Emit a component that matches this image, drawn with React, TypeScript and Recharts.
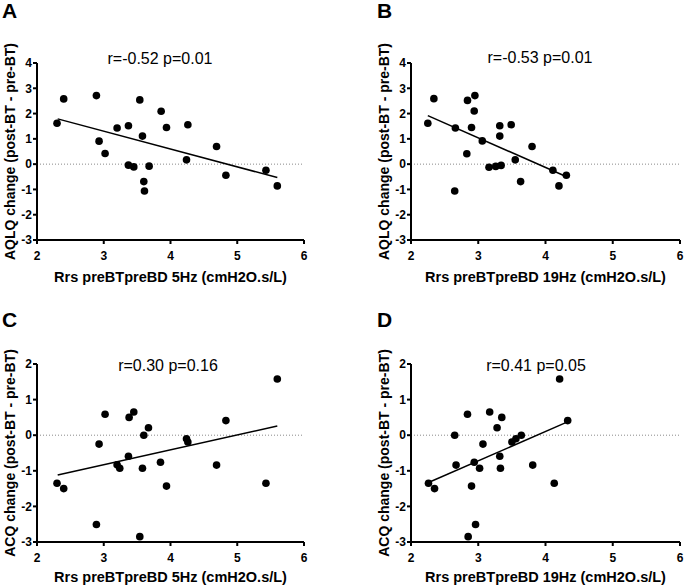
import React from "react";
import { ScatterChart, Scatter, XAxis, YAxis, ReferenceLine } from "recharts";

const FONT = "'Liberation Sans', Arial, Helvetica, sans-serif";

// [Rrs, change] pairs
const aqlqVs5Hz = [
  [2.3, 1.62], [2.4, 2.58], [2.89, 2.71], [2.93, 0.91], [3.02, 0.42], [3.2, 1.43],
  [3.37, 1.52], [3.37, -0.04], [3.45, -0.11], [3.54, 2.54], [3.58, 1.11], [3.6, -0.69],
  [3.61, -1.06], [3.68, -0.08], [3.86, 2.09], [3.94, 1.45], [4.24, 0.17], [4.26, 1.56],
  [4.69, 0.7], [4.83, -0.44], [5.43, -0.24], [5.6, -0.86],
];
const aqlqVs19Hz = [
  [2.25, 1.62], [2.34, 2.59], [2.65, -1.06], [2.66, 1.43], [2.83, 0.41], [2.84, 2.52],
  [2.9, 1.45], [2.94, 2.1], [2.95, 2.71], [3.06, 0.92], [3.16, -0.12], [3.26, -0.09],
  [3.32, 1.52], [3.32, 1.11], [3.34, -0.05], [3.49, 1.56], [3.55, 0.17], [3.63, -0.69],
  [3.8, 0.7], [4.11, -0.24], [4.2, -0.86], [4.31, -0.44],
];
const acqVs5Hz = [
  [2.3, -1.35], [2.4, -1.5], [2.89, -2.51], [2.93, -0.25], [3.02, 0.59], [3.2, -0.83],
  [3.24, -0.93], [3.37, -0.59], [3.38, 0.5], [3.45, 0.65], [3.54, -2.85], [3.58, -0.93],
  [3.6, 0.0], [3.67, 0.21], [3.85, -0.76], [3.94, -1.43], [4.24, -0.1], [4.26, -0.19],
  [4.69, -0.84], [4.83, 0.41], [5.43, -1.35], [5.6, 1.58],
];
const acqVs19Hz = [
  [2.26, -1.35], [2.35, -1.5], [2.65, 0.0], [2.67, -0.84], [2.84, 0.59], [2.85, -2.85],
  [2.9, -1.43], [2.94, -0.76], [2.96, -2.51], [3.02, -0.93], [3.07, -0.25], [3.17, 0.65],
  [3.28, 0.21], [3.32, -0.59], [3.33, -0.93], [3.35, 0.5], [3.5, -0.19], [3.56, -0.1],
  [3.64, 0.0], [3.81, -0.84], [4.13, -1.35], [4.21, 1.58], [4.33, 0.41],
];

// regression line end points
const fitA = [[2.31, 1.79], [5.6, -0.53]];
const fitB = [[2.25, 1.92], [4.28, -0.46]];
const fitC = [[2.31, -1.12], [5.6, 0.26]];
const fitD = [[2.26, -1.33], [4.31, 0.36]];

const X_TICKS = [2, 3, 4, 5, 6];
const AQLQ_TICKS = [-3, -2, -1, 0, 1, 2, 3, 4];
const ACQ_TICKS = [-3, -2, -1, 0, 1, 2];

const X_LABEL_5 = "Rrs preBTpreBD 5Hz (cmH2O.s/L)";
const X_LABEL_19 = "Rrs preBTpreBD 19Hz (cmH2O.s/L)";
const Y_LABEL_AQLQ = "AQLQ change (post-BT - pre-BT)";
const Y_LABEL_ACQ = "ACQ change (post-BT - pre-BT)";

const toPts = (rows: number[][]) => rows.map(([x, y]) => ({ x, y }));

const axisLine = { stroke: "#000", strokeWidth: 2 };
const tickStyle = { fill: "#000", fontSize: 12, fontWeight: 700, fontFamily: FONT };

type PanelProps = {
  points: number[][];
  fit: number[][];
  yTicks: number[];
  xLabel: string;
  yLabel: string;
  left: number;
  top: number;
  width: number;
  height: number;
  margin: { top: number; right: number; bottom: number; left: number };
  xAxisHeight: number;
};

function Panel(p: PanelProps) {
  const yMin = p.yTicks[0];
  const yMax = p.yTicks[p.yTicks.length - 1];
  return (
    <div style={{ position: "absolute", left: p.left, top: p.top }}>
      <ScatterChart width={p.width} height={p.height} margin={p.margin}>
        <XAxis
          type="number"
          dataKey="x"
          domain={[2, 6]}
          ticks={X_TICKS}
          interval={0}
          allowDataOverflow
          height={p.xAxisHeight}
          axisLine={axisLine}
          tickLine={axisLine}
          tickSize={4}
          tickMargin={7}
          tick={tickStyle}
          label={{
            content: (lp: any) => {
              const vb = lp.viewBox;
              return (
                <text
                  x={vb.x + vb.width / 2}
                  y={vb.y + vb.height}
                  textAnchor="middle"
                  fontSize={14.5}
                  fontWeight={700}
                  fontFamily={FONT}
                  fill="#000"
                >
                  {p.xLabel}
                </text>
              );
            },
          }}
        />
        <YAxis
          type="number"
          dataKey="y"
          domain={[yMin, yMax]}
          ticks={p.yTicks}
          interval={0}
          allowDataOverflow
          width={37}
          axisLine={axisLine}
          tickLine={axisLine}
          tickSize={4}
          tickMargin={1}
          tick={tickStyle}
          label={{
            content: (lp: any) => {
              const vb = lp.viewBox;
              const bx = vb.x + vb.width - 22;
              const cy = vb.y + vb.height / 2;
              return (
                <text
                  x={bx}
                  y={cy}
                  transform={`rotate(-90 ${bx} ${cy})`}
                  textAnchor="middle"
                  fontSize={14}
                  fontWeight={700}
                  fontFamily={FONT}
                  fill="#000"
                >
                  {p.yLabel}
                </text>
              );
            },
          }}
        />
        <ReferenceLine y={0} stroke="#8a8a8a" strokeWidth={1} strokeDasharray="1 2" />
        <Scatter
          data={toPts(p.fit)}
          line={{ stroke: "#000", strokeWidth: 1.5 }}
          shape={() => <g />}
          isAnimationActive={false}
        />
        <Scatter
          data={toPts(p.points)}
          fill="#000"
          shape={(s: any) => <circle cx={s.cx} cy={s.cy} r={3.8} fill="#000" />}
          isAnimationActive={false}
        />
      </ScatterChart>
    </div>
  );
}

export default function App() {
  const topRow = { top: 0, height: 290, margin: { top: 63, right: 0, bottom: 8, left: 0 }, xAxisHeight: 42 };
  const bottomRow = { top: 295, height: 290, margin: { top: 69, right: 0, bottom: 3, left: 0 }, xAxisHeight: 40 };
  return (
    <div
      style={{
        position: "absolute",
        left: 0,
        top: 0,
        width: 685,
        height: 585,
        background: "#fff",
        overflow: "hidden",
        fontFamily: FONT,
      }}
    >
      <Panel
        {...topRow}
        margin={{ ...topRow.margin, right: 36 }}
        left={0}
        width={340}
        points={aqlqVs5Hz}
        fit={fitA}
        yTicks={AQLQ_TICKS}
        xLabel={X_LABEL_5}
        yLabel={Y_LABEL_AQLQ}
      />
      <Panel
        {...topRow}
        margin={{ ...topRow.margin, right: 5 }}
        left={374}
        width={311}
        points={aqlqVs19Hz}
        fit={fitB}
        yTicks={AQLQ_TICKS}
        xLabel={X_LABEL_19}
        yLabel={Y_LABEL_AQLQ}
      />
      <Panel
        {...bottomRow}
        margin={{ ...bottomRow.margin, right: 36 }}
        left={0}
        width={340}
        points={acqVs5Hz}
        fit={fitC}
        yTicks={ACQ_TICKS}
        xLabel={X_LABEL_5}
        yLabel={Y_LABEL_ACQ}
      />
      <Panel
        {...bottomRow}
        margin={{ ...bottomRow.margin, right: 5 }}
        left={374}
        width={311}
        points={acqVs19Hz}
        fit={fitD}
        yTicks={ACQ_TICKS}
        xLabel={X_LABEL_19}
        yLabel={Y_LABEL_ACQ}
      />
      <svg
        width={685}
        height={585}
        style={{ position: "absolute", left: 0, top: 0, pointerEvents: "none" }}
      >
        <g fontFamily={FONT} fill="#000">
          <text x={2} y={18} fontSize={21} fontWeight={700}>A</text>
          <text x={377} y={18} fontSize={21} fontWeight={700}>B</text>
          <text x={2} y={327} fontSize={21} fontWeight={700}>C</text>
          <text x={377} y={327} fontSize={21} fontWeight={700}>D</text>
          <text x={160} y={64} fontSize={16} textAnchor="middle">r=-0.52 p=0.01</text>
          <text x={540} y={63} fontSize={16} textAnchor="middle">r=-0.53 p=0.01</text>
          <text x={168} y={371} fontSize={16} textAnchor="middle">r=0.30 p=0.16</text>
          <text x={536} y={371} fontSize={16} textAnchor="middle">r=0.41 p=0.05</text>
        </g>
      </svg>
    </div>
  );
}
